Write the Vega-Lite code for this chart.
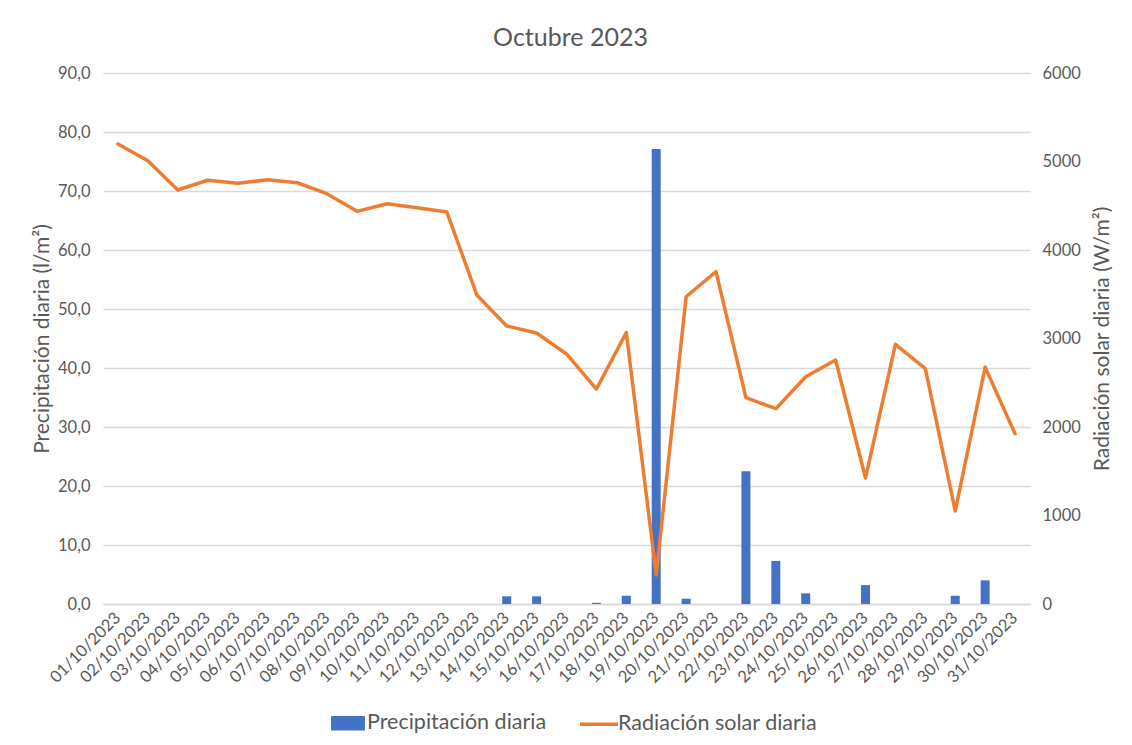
{
  "$schema": "https://vega.github.io/schema/vega-lite/v6.json",
  "width": 927,
  "height": 531,
  "autosize": {"type": "none"},
  "padding": {"left": 103, "top": 73, "right": 102, "bottom": 141},
  "background": "white",
  "title": {"text": "Octubre 2023", "fontSize": 25, "font": "Lato", "fontWeight": "normal", "color": "#595959", "anchor": "middle", "offset": 14, "dx": 4},
  "config": {"view": {"stroke": null}},
  "data": {"values": [
    {"fecha": "01/10/2023", "precip": 0, "rad": 5198},
    {"fecha": "02/10/2023", "precip": 0, "rad": 5009},
    {"fecha": "03/10/2023", "precip": 0, "rad": 4678},
    {"fecha": "04/10/2023", "precip": 0, "rad": 4788},
    {"fecha": "05/10/2023", "precip": 0, "rad": 4753},
    {"fecha": "06/10/2023", "precip": 0, "rad": 4794},
    {"fecha": "07/10/2023", "precip": 0, "rad": 4760},
    {"fecha": "08/10/2023", "precip": 0, "rad": 4633},
    {"fecha": "09/10/2023", "precip": 0, "rad": 4437},
    {"fecha": "10/10/2023", "precip": 0, "rad": 4523},
    {"fecha": "11/10/2023", "precip": 0, "rad": 4478},
    {"fecha": "12/10/2023", "precip": 0, "rad": 4429},
    {"fecha": "13/10/2023", "precip": 0, "rad": 3492},
    {"fecha": "14/10/2023", "precip": 1.3, "rad": 3141},
    {"fecha": "15/10/2023", "precip": 1.3, "rad": 3062},
    {"fecha": "16/10/2023", "precip": 0, "rad": 2825},
    {"fecha": "17/10/2023", "precip": 0.2, "rad": 2429},
    {"fecha": "18/10/2023", "precip": 1.4, "rad": 3066},
    {"fecha": "19/10/2023", "precip": 77.1, "rad": 328},
    {"fecha": "20/10/2023", "precip": 0.9, "rad": 3472},
    {"fecha": "21/10/2023", "precip": 0, "rad": 3755},
    {"fecha": "22/10/2023", "precip": 22.5, "rad": 2331},
    {"fecha": "23/10/2023", "precip": 7.3, "rad": 2207},
    {"fecha": "24/10/2023", "precip": 1.8, "rad": 2568},
    {"fecha": "25/10/2023", "precip": 0, "rad": 2757},
    {"fecha": "26/10/2023", "precip": 3.2, "rad": 1424},
    {"fecha": "27/10/2023", "precip": 0, "rad": 2934},
    {"fecha": "28/10/2023", "precip": 0, "rad": 2659},
    {"fecha": "29/10/2023", "precip": 1.4, "rad": 1051},
    {"fecha": "30/10/2023", "precip": 4.0, "rad": 2675},
    {"fecha": "31/10/2023", "precip": 0, "rad": 1924}
  ]},
  "encoding": {
    "x": {
      "field": "fecha", "type": "ordinal", "sort": null,
      "scale": {"paddingInner": 0, "paddingOuter": 0},
      "axis": {"title": null, "labelAngle": -45, "labelAlign": "right", "labelBaseline": "middle", "labelFont": "Lato", "labelFontSize": 16.5, "labelColor": "#595959", "labelPadding": 11, "ticks": false, "domain": true, "domainColor": "#D9D9D9", "domainWidth": 1.3, "grid": false, "labelOverlap": false}
    },
    "color": {
      "scale": {"domain": ["Precipitación diaria", "Radiación solar diaria"], "range": ["#4472C4", "#ED7D31"]}
    }
  },
  "layer": [
    {
      "mark": {"type": "bar", "width": 9},
      "encoding": {
        "y": {
          "field": "precip", "type": "quantitative",
          "scale": {"domain": [0, 90]},
          "axis": {"orient": "left", "values": [0,10,20,30,40,50,60,70,80,90], "labelExpr": "replace(format(datum.value, '.1f'), '.', ',')", "title": "Precipitación diaria (l/m²)", "titleFont": "Lato", "titleFontSize": 21, "titleFontWeight": "normal", "titleColor": "#595959", "titleAngle": -90, "titleX": -61, "titleY": 265.5, "titleAlign": "center", "titleBaseline": "middle", "labelFont": "Lato", "labelFontSize": 16.5, "labelColor": "#595959", "labelPadding": 13, "ticks": false, "domain": false, "grid": true, "gridColor": "#D9D9D9", "gridWidth": 1.3}
        },
        "color": {"datum": "Precipitación diaria", "type": "nominal",
          "legend": {
            "orient": "none", "legendX": 224, "legendY": 629, "direction": "horizontal", "title": null,
            "symbolSize": 1444, "labelFont": "Lato", "labelFontSize": 21.5, "labelColor": "#595959", "labelOffset": -2, "labelLimit": 0, "columnPadding": 26, "padding": 0,
            "encode": {"symbols": {"update": {
              "shape": {"signal": "datum.value === 'Precipitación diaria' ? 'M-0.8,-0.29H0.8V0.29H-0.8Z' : 'M-1,0H1'"},
              "fill": {"signal": "datum.value === 'Precipitación diaria' ? '#4472C4' : 'transparent'"},
              "stroke": {"signal": "datum.value === 'Precipitación diaria' ? 'transparent' : '#ED7D31'"},
              "strokeWidth": {"value": 3.5},
              "opacity": {"value": 1}
            }}}
          }
        }
      }
    },
    {
      "mark": {"type": "line", "strokeWidth": 3.5, "strokeJoin": "round", "strokeCap": "round"},
      "encoding": {
        "y": {
          "field": "rad", "type": "quantitative",
          "scale": {"domain": [0, 6000]},
          "axis": {"orient": "right", "values": [0,1000,2000,3000,4000,5000,6000], "format": "d", "title": "Radiación solar diaria (W/m²)", "titleFont": "Lato", "titleFontSize": 21, "titleFontWeight": "normal", "titleColor": "#595959", "titleAngle": -90, "titleX": 72, "titleY": 265.5, "titleAlign": "center", "titleBaseline": "middle", "labelFont": "Lato", "labelFontSize": 16.5, "labelColor": "#595959", "labelPadding": 12, "ticks": false, "domain": false, "grid": false}
        },
        "color": {"datum": "Radiación solar diaria", "type": "nominal"}
      }
    }
  ],
  "resolve": {"scale": {"y": "independent"}}
}
